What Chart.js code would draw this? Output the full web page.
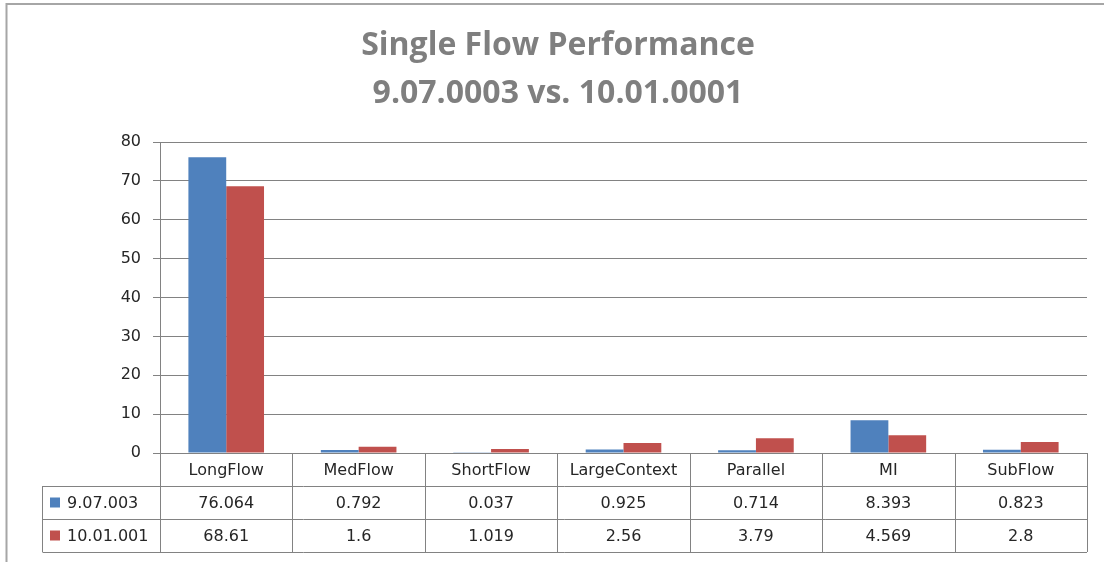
<!DOCTYPE html>
<html>
<head>
<meta charset="utf-8">
<script src="https://cdn.jsdelivr.net/npm/chart.js@4"></script>
<style>
  body { margin: 0; background: #fff; }
  canvas { display: block; }
</style>
</head>
<body>
<canvas id="myChart" width="1104" height="562"></canvas>
<script>
const categories = ["LongFlow", "MedFlow", "ShortFlow", "LargeContext", "Parallel", "MI", "SubFlow"];
const seriesNames = ["9.07.003", "10.01.001"];
const oldValues = [76.064, 0.792, 0.037, 0.925, 0.714, 8.393, 0.823];
const newValues = [68.61, 1.6, 1.019, 2.56, 3.79, 4.569, 2.8];
const titleLines = ["Single Flow Performance", "9.07.0003 vs. 10.01.0001"];
const colors = ["#4f81bd", "#c0504d"];

const lineColor = "#828282";
const textColor = "#262626";
const tableFont = "16px 'DejaVu Sans'";

// draws the Excel style data table under the x axis and the chart frame
const dataTable = {
  id: "dataTable",
  beforeDraw(chart) {
    const c = chart.ctx;
    c.save();
    c.fillStyle = "#fff";
    c.fillRect(0, 0, chart.width, chart.height);
    c.strokeStyle = "#a6a6a6";
    c.lineWidth = 2;
    c.beginPath();
    c.moveTo(6.5, chart.height);
    c.lineTo(6.5, 4);
    c.lineTo(chart.width, 4);
    c.stroke();
    c.restore();
  },
  afterDraw(chart) {
    const c = chart.ctx;
    const x = chart.scales.x;
    const area = chart.chartArea;
    const rowH = 33;
    const top = area.bottom;
    const legendLeft = 42.5;
    const n = categories.length;

    let edges = [area.left];
    for (let i = 0; i < n - 1; i++) {
      edges.push((x.getPixelForValue(i) + x.getPixelForValue(i + 1)) / 2);
    }
    edges.push(area.right);

    c.save();
    c.strokeStyle = lineColor;
    c.lineWidth = 1;
    c.beginPath();
    // horizontal lines
    c.moveTo(area.left, Math.round(top) + 0.5);
    c.lineTo(area.right, Math.round(top) + 0.5);
    for (let r = 1; r <= 3; r++) {
      let yy = Math.round(top + r * rowH) + 0.5;
      c.moveTo(legendLeft, yy);
      c.lineTo(area.right, yy);
    }
    // vertical lines
    edges.forEach((ex) => {
      let xx = Math.round(ex) + 0.5;
      c.moveTo(xx, top);
      c.lineTo(xx, top + 3 * rowH);
    });
    c.moveTo(legendLeft, top + rowH);
    c.lineTo(legendLeft, top + 3 * rowH);
    c.stroke();

    c.font = tableFont;
    c.fillStyle = textColor;
    c.textAlign = "center";
    c.textBaseline = "middle";
    categories.forEach((cat, i) => {
      let cx = x.getPixelForValue(i);
      c.fillText(cat, cx, top + rowH / 2 + 1);
      c.fillText(String(oldValues[i]), cx, top + rowH * 1.5 + 1);
      c.fillText(String(newValues[i]), cx, top + rowH * 2.5 + 1);
    });

    c.textAlign = "left";
    seriesNames.forEach((name, r) => {
      let cy = top + rowH * (1.5 + r);
      c.fillStyle = colors[r];
      c.fillRect(50, cy - 5, 10, 10);
      c.fillStyle = textColor;
      c.fillText(name, 67, cy + 1);
    });
    c.restore();
  },
};

const ctx = document.getElementById("myChart").getContext("2d");
const myChart = new Chart(ctx, {
  type: "bar",
  data: {
    labels: categories,
    datasets: [
      {
        label: seriesNames[0],
        data: oldValues,
        backgroundColor: colors[0],
        borderWidth: 0,
      },
      {
        label: seriesNames[1],
        data: newValues,
        backgroundColor: colors[1],
        borderWidth: 0,
      },
    ],
  },
  options: {
    responsive: false,
    animation: false,
    layout: {
      padding: { left: 29, right: 17, top: 0, bottom: 0 },
    },
    datasets: {
      bar: {
        barPercentage: 1,
        categoryPercentage: 0.571,
      },
    },
    plugins: {
      legend: { display: false },
      tooltip: { enabled: false },
      title: {
        display: true,
        text: titleLines,
        color: "#7f7f7f",
        font: { family: "'Open Sans'", size: 32, weight: "bold", lineHeight: 1.5 },
        padding: { top: 22, bottom: 24 },
      },
    },
    scales: {
      x: {
        grid: { display: false },
        ticks: { display: false },
        border: { display: true, color: lineColor, width: 1 },
        afterFit: (scale) => {
          scale.height = 109;
        },
      },
      y: {
        min: 0,
        max: 80,
        ticks: {
          stepSize: 10,
          color: textColor,
          font: { family: "'DejaVu Sans'", size: 16 },
          padding: 12,
        },
        grid: {
          color: lineColor,
          lineWidth: 1,
          tickLength: 7,
          drawTicks: true,
        },
        border: { display: true, color: lineColor, width: 1 },
        afterFit: (scale) => {
          scale.width = 131;
        },
      },
    },
  },
  plugins: [dataTable],
});
</script>
</body>
</html>
